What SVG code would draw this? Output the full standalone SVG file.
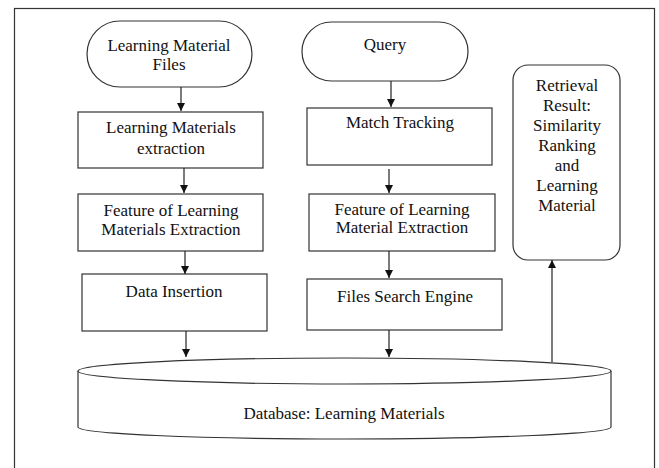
<svg xmlns="http://www.w3.org/2000/svg" width="659" height="468" viewBox="0 0 659 468">
  <style>
    .shape { fill: #ffffff; stroke: #333333; stroke-width: 1.2; }
    .label { font-family: "Liberation Serif", "Times New Roman", serif; font-size: 17px; fill: #111111; text-anchor: middle; }
    .edge { fill: none; stroke: #222222; stroke-width: 1.2; }
  </style>
  <defs>
    <marker id="arrow" viewBox="0 0 10 10" refX="10" refY="5" markerWidth="8" markerHeight="8" markerUnits="userSpaceOnUse" orient="auto">
      <path d="M0,0 L10,5 L0,10 Z" fill="#111111"/>
    </marker>
  </defs>

  <rect x="0" y="0" width="659" height="468" fill="#ffffff"/>
  <!-- outer frame -->
  <rect x="14.5" y="8.5" width="640" height="470" fill="none" stroke="#333333" stroke-width="1.2"/>

  <g id="learning-material-files">
    <rect class="shape" x="87" y="21" width="165" height="66" rx="33" ry="33"/>
    <text class="label" x="169" y="51">Learning Material</text>
    <text class="label" x="169" y="70">Files</text>
  </g>

  <g id="materials-extraction">
    <rect class="shape" x="78" y="112" width="185" height="56"/>
    <text class="label" x="171" y="133">Learning Materials</text>
    <text class="label" x="171" y="154">extraction</text>
  </g>

  <g id="feature-extraction-left">
    <rect class="shape" x="78" y="194" width="185" height="57"/>
    <text class="label" x="171" y="216">Feature of Learning</text>
    <text class="label" x="171" y="235">Materials Extraction</text>
  </g>

  <g id="data-insertion">
    <rect class="shape" x="82" y="274" width="185" height="57"/>
    <text class="label" x="174" y="297">Data Insertion</text>
  </g>

  <g id="query">
    <rect class="shape" x="302" y="22" width="166" height="59" rx="29.5" ry="29.5"/>
    <text class="label" x="385" y="50">Query</text>
  </g>

  <g id="match-tracking">
    <rect class="shape" x="307" y="108" width="185" height="57"/>
    <text class="label" x="400" y="128">Match Tracking</text>
  </g>

  <g id="feature-extraction-right">
    <rect class="shape" x="309" y="194" width="186" height="57"/>
    <text class="label" x="402" y="215">Feature of Learning</text>
    <text class="label" x="402" y="233">Material Extraction</text>
  </g>

  <g id="files-search-engine">
    <rect class="shape" x="307" y="279" width="195" height="51"/>
    <text class="label" x="405" y="302">Files Search Engine</text>
  </g>

  <g id="retrieval-result">
    <rect class="shape" x="513" y="65" width="107" height="195" rx="15" ry="15"/>
    <text class="label" x="567" y="91">Retrieval</text>
    <text class="label" x="567" y="111">Result:</text>
    <text class="label" x="567" y="131">Similarity</text>
    <text class="label" x="567" y="151">Ranking</text>
    <text class="label" x="567" y="171">and</text>
    <text class="label" x="567" y="191">Learning</text>
    <text class="label" x="567" y="211">Material</text>
  </g>

  <g id="database">
    <path class="shape" d="M78,371 L78,427 A266.5,12 0 0 0 611,427 L611,371 A266.5,13 0 0 0 78,371 Z"/>
    <path class="shape" fill="none" d="M78,371 A266.5,13 0 0 0 611,371"/>
    <text class="label" x="344" y="419">Database: Learning Materials</text>
  </g>

  <g id="connectors">
    <line class="edge" x1="181" y1="87" x2="181" y2="111" marker-end="url(#arrow)"/>
    <line class="edge" x1="184" y1="168" x2="184" y2="193" marker-end="url(#arrow)"/>
    <line class="edge" x1="185" y1="251" x2="185" y2="274" marker-end="url(#arrow)"/>
    <line class="edge" x1="186" y1="331" x2="186" y2="357" marker-end="url(#arrow)"/>
    <line class="edge" x1="391" y1="81" x2="391" y2="107" marker-end="url(#arrow)"/>
    <line class="edge" x1="389" y1="169" x2="389" y2="193" marker-end="url(#arrow)"/>
    <line class="edge" x1="389" y1="251" x2="389" y2="278" marker-end="url(#arrow)"/>
    <line class="edge" x1="389" y1="330" x2="389" y2="357" marker-end="url(#arrow)"/>
    <line class="edge" x1="552" y1="362" x2="552" y2="260" marker-end="url(#arrow)"/>
  </g>
</svg>
